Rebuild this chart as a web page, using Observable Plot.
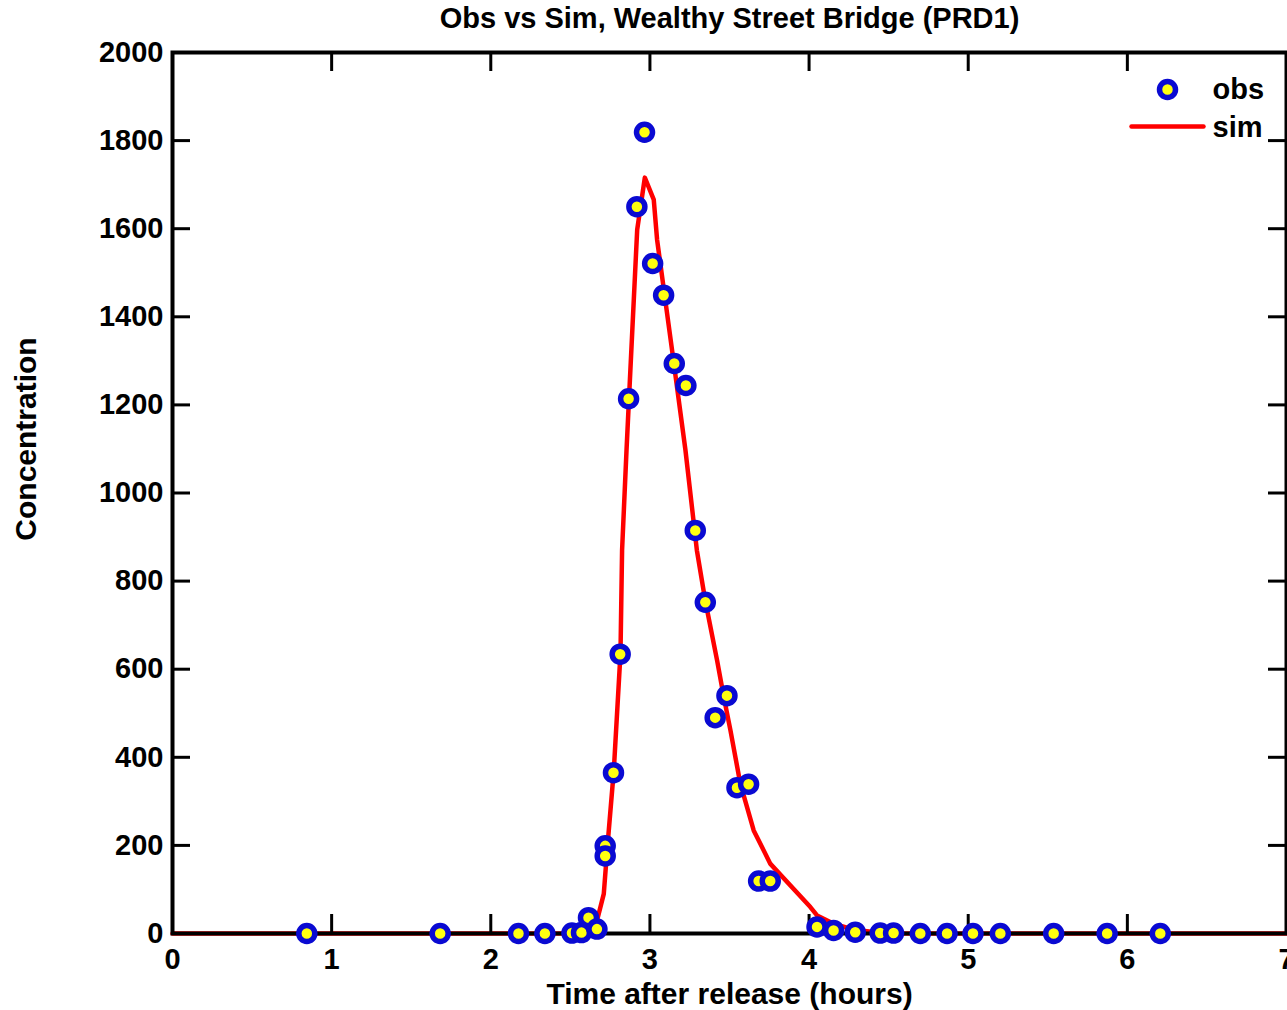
<!DOCTYPE html>
<html>
<head>
<meta charset="utf-8">
<script src="https://cdn.jsdelivr.net/npm/d3@7"></script>
<script src="https://cdn.jsdelivr.net/npm/@observablehq/plot@0.6"></script>
<style>
  html, body { margin: 0; padding: 0; background: #fff; overflow: hidden; }
  #chart svg { display: block; font-family: "Liberation Sans", Arial, Helvetica, sans-serif; }
</style>
</head>
<body>
<div id="chart"></div>
<script>
// Observed tracer concentration at Wealthy Street Bridge (PRD1)
const obsTime = [0.844, 1.682, 2.174, 2.34, 2.51, 2.57, 2.614, 2.667, 2.719, 2.719, 2.771, 2.813, 2.866, 2.918, 2.966, 3.017, 3.086, 3.153, 3.226, 3.285, 3.348, 3.41, 3.484, 3.547, 3.62, 3.683, 3.756, 4.05, 4.154, 4.29, 4.447, 4.531, 4.699, 4.867, 5.03, 5.202, 5.537, 5.873, 6.207];
const obsConc = [0, 0, 0, 0, 1, 2, 36, 10, 199, 176, 365, 634, 1214, 1650, 1819, 1521, 1449, 1294, 1244, 915, 752, 490, 540, 331, 339, 119, 119, 15, 7, 3, 1, 1, 0, 0, 0, 0, 0, 0, 0];

// Simulated concentration
const simTime = [0, 2.55, 2.605, 2.668, 2.71, 2.731, 2.773, 2.815, 2.825, 2.853, 2.868, 2.92, 2.968, 3.024, 3.045, 3.15, 3.223, 3.295, 3.349, 3.422, 3.464, 3.506, 3.568, 3.652, 3.757, 4.008, 4.05, 4.155, 4.29, 4.45, 4.6, 7];
const simConc = [0, 0, 7, 30, 90, 189, 370, 636, 870, 1098, 1211, 1598, 1716, 1666, 1575, 1295, 1098, 870, 753, 620, 537, 461, 340, 234, 158, 60, 41, 22, 8, 2, 0, 0];

// Axis ticks
const xTicks = [0, 1, 2, 3, 4, 5, 6, 7];
const yTicks = [0, 200, 400, 600, 800, 1000, 1200, 1400, 1600, 1800, 2000];

const titleText = "Obs vs Sim, Wealthy Street Bridge (PRD1)";
const xLabel = "Time after release (hours)";
const yLabel = "Concentration";
const legendLabels = ["obs", "sim"];

const obs = obsTime.map((t, i) => ({t, c: obsConc[i]}));
const sim = simTime.map((t, i) => ({t, c: simConc[i]}));

const W = 1287, H = 1010;
const mL = 172, mR = 1, mT = 52, mB = 77;
const frameW = W - mL - mR, frameH = H - mT - mB;
const tickLen = 19;

const blue = "#0a0ad2", yellow = "#ffff10", red = "#ff0000";
const bold = {fontWeight: "bold", fill: "black"};
const marker = {r: 8, stroke: blue, strokeWidth: 5.5, fill: yellow};

const lineShape = {
  draw(context, l) { context.moveTo(0, 0); context.lineTo(0, -l); }
};

const chart = Plot.plot({
  width: W,
  height: H,
  marginLeft: mL,
  marginRight: mR,
  marginTop: mT,
  marginBottom: mB,
  x: {domain: [0, 7]},
  y: {domain: [0, 2000]},
  style: {fontFamily: "'Liberation Sans', Arial, Helvetica, sans-serif", background: "#fff", overflow: "hidden"},
  marks: [
    Plot.line(sim, {x: "t", y: "c", stroke: red, strokeWidth: 4.5, strokeLinejoin: "round"}),
    // inward ticks on all four sides
    Plot.ruleX(xTicks, {x: d => d, insetTop: frameH - tickLen, stroke: "black", strokeWidth: 3}),
    Plot.ruleX(xTicks, {x: d => d, insetBottom: frameH - tickLen, stroke: "black", strokeWidth: 3}),
    Plot.ruleY(yTicks, {y: d => d, insetRight: frameW - 18, stroke: "black", strokeWidth: 3}),
    Plot.ruleY(yTicks, {y: d => d, insetLeft: frameW - 18, stroke: "black", strokeWidth: 3}),
    Plot.frame({stroke: "black", strokeWidth: 4}),
    Plot.axisX({ticks: xTicks, tickFormat: d => String(d), tickSize: 0, tickPadding: 15, fontSize: 29, ...bold, label: null}),
    Plot.axisY({ticks: yTicks, tickFormat: d => String(d), tickSize: 0, tickPadding: 9, fontSize: 29, ...bold, label: null}),
    Plot.dot(obs, {x: "t", y: "c", ...marker}),
    // legend
    Plot.dot([0], {frameAnchor: "top-right", dx: -119, dy: 37, ...marker}),
    Plot.vector([0], {frameAnchor: "top-right", dx: -155, dy: 74, rotate: 90, length: 72, anchor: "start", shape: lineShape, stroke: red, strokeWidth: 4.5}),
    Plot.text([legendLabels[0]], {frameAnchor: "top-right", dx: -74, dy: 37, text: d => d, textAnchor: "start", lineAnchor: "middle", fontSize: 29, ...bold}),
    Plot.text([legendLabels[1]], {frameAnchor: "top-right", dx: -74, dy: 75, text: d => d, textAnchor: "start", lineAnchor: "middle", fontSize: 29, ...bold}),
    // title and axis labels
    Plot.text([titleText], {frameAnchor: "top", dy: -34, text: d => d, lineAnchor: "middle", fontSize: 29, ...bold}),
    Plot.text([xLabel], {frameAnchor: "bottom", dy: 61, text: d => d, lineAnchor: "middle", fontSize: 30, ...bold}),
    Plot.text([yLabel], {frameAnchor: "left", dx: -146, dy: -54, rotate: -90, text: d => d, textAnchor: "middle", lineAnchor: "middle", fontSize: 30, ...bold})
  ]
});

document.getElementById("chart").appendChild(chart);
</script>
</body>
</html>
